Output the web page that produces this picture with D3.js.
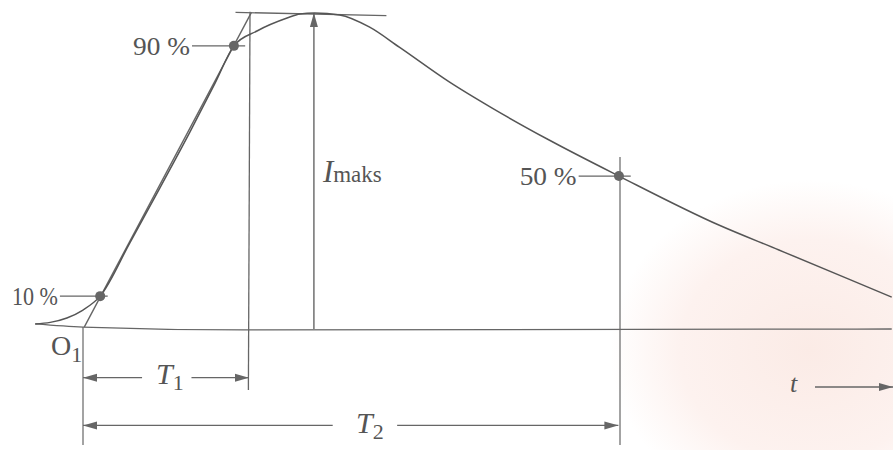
<!DOCTYPE html>
<html>
<head>
<meta charset="utf-8">
<script src="https://cdn.jsdelivr.net/npm/d3@7"></script>
<style>
  body { margin: 0; background: #fff; }
  text { font-family: "Liberation Serif", "DejaVu Serif", serif; fill: #555; }
</style>
</head>
<body>
<div id="grafico"></div>
<script>
// Impulsna struja: valni oblik T1/T2 (vrijednosti očitane sa slike, t u relativnim jedinicama, T2 = 100)
const valT = [-8.9, -6.1, -3.0, 0, 3.2, 8.7, 14.3, 19.9, 24.5, 28.1, 32.4, 38.0, 40.4, 43.1,
              47.8, 53.3, 58.9, 68.2, 76.2, 86.8, 99.8, 118.4, 129.6, 142.6, 150.6];
const valI = [1.6, 2.1, 3.5, 6.0, 10.4, 27.2, 44.6, 62.3, 77.5, 89.6, 94.3, 98.4, 99.7, 100,
              99.4, 95.6, 89.2, 78.2, 69.9, 59.8, 48.4, 32.9, 25.0, 15.8, 10.1];

// osnovna linija (os t)
const osT = [-8.9, 0, 30, 150.6];
const osI = [1.6, 0.6, -0.3, 0];

// točke 10 %, 90 %, 50 %
const tockeNaziv = ["10 %", "90 %", "50 %"];
const tockeT = [3.2, 28.1, 99.8];
const tockeI = [10.4, 89.6, 48.4];

const T1 = 31.1;
const T2 = 100;
const tMaks = 43.0;

const width = 893;
const height = 450;

const x = d3.scaleLinear().domain([0, 100]).range([83, 620]);
const y = d3.scaleLinear().domain([0, 100]).range([329, 13]);

const boja = "#666";

const svg = d3.select("#grafico")
    .append("svg")
    .attr("width", width)
    .attr("height", height);

// blijedi ružičasti ton papira (skenirana stranica)
const grad = svg.append("defs").append("radialGradient")
    .attr("id", "papir")
    .attr("cx", "0.5").attr("cy", "0.5").attr("r", "0.5");
grad.append("stop").attr("offset", "0%").attr("stop-color", "#fbebe6");
grad.append("stop").attr("offset", "65%").attr("stop-color", "#fdf2ef");
grad.append("stop").attr("offset", "100%").attr("stop-color", "#ffffff");
svg.append("ellipse")
    .attr("cx", 810).attr("cy", 350)
    .attr("rx", 200).attr("ry", 170)
    .attr("fill", "url(#papir)");

// strelice
const defs = svg.append("defs");
defs.append("marker")
    .attr("id", "strelica")
    .attr("markerUnits", "userSpaceOnUse")
    .attr("viewBox", "0 -5 14 10")
    .attr("refX", 14).attr("refY", 0)
    .attr("markerWidth", 14).attr("markerHeight", 10)
    .attr("orient", "auto")
    .append("path")
    .attr("d", "M0,-4L14,0L0,4Z")
    .attr("fill", boja);

const linija = (t0, i0, t1, i1, strelica, sirina) => {
    const l = svg.append("line")
        .attr("x1", x(t0)).attr("y1", y(i0))
        .attr("x2", x(t1)).attr("y2", y(i1))
        .attr("stroke", boja)
        .attr("stroke-width", sirina || 1.3);
    if (strelica) l.attr("marker-end", "url(#strelica)");
    return l;
};

// os t
svg.append("path")
    .datum(osT.map((t, k) => [t, osI[k]]))
    .attr("d", d3.line().x(d => x(d[0])).y(d => y(d[1])).curve(d3.curveMonotoneX))
    .attr("fill", "none")
    .attr("stroke", boja)
    .attr("stroke-width", 1.3);

// pravac kroz 10 % i 90 % (prividni početak O1)
const nagib = (tockeI[1] - tockeI[0]) / (tockeT[1] - tockeT[0]);
const t0 = tockeT[0] - tockeI[0] / nagib;
linija(t0 + 0.3, 0.6, t0 + 100 / nagib, 100.2, false, 1.4);

// vodoravna tangenta na vrhu
linija(28.4, 100.2, 56.5, 99.2, false, 1.3);

// okomice O1, T1, T2
linija(0, 0.6, 0, -36.7, false, 1.2);
linija(T1, 100.4, T1 - 0.3, -19.3, false, 1.3);
linija(T2, 54.4, T2, -36.7, false, 1.2);

// I maks
linija(tMaks, 0, tMaks, 100, true, 1.4);

// valni oblik
svg.append("path")
    .datum(valT.map((t, k) => [t, valI[k]]))
    .attr("d", d3.line().x(d => x(d[0])).y(d => y(d[1])).curve(d3.curveMonotoneX))
    .attr("fill", "none")
    .attr("stroke", "#555")
    .attr("stroke-width", 1.5);

// točke i oznake postotaka
const vodiceOd = [-4.3, 20.3, 92.3];
const vodiceDo = [4.6, 30.2, 102];
tockeNaziv.forEach((n, k) => {
    linija(vodiceOd[k], tockeI[k], vodiceDo[k], tockeI[k], false, 1.2);
    svg.append("circle")
        .attr("cx", x(tockeT[k]))
        .attr("cy", y(tockeI[k]))
        .attr("r", 5)
        .attr("fill", "#666");
    svg.append("text")
        .attr("x", x(vodiceOd[k]) - 2)
        .attr("y", y(tockeI[k]) + 9)
        .attr("text-anchor", "end")
        .style("font-size", k === 0 ? "25px" : "26px")
        .attr("textLength", k === 0 ? 46 : 57)
        .attr("lengthAdjust", "spacingAndGlyphs")
        .text(n);
});

// I_maks
const im = svg.append("text")
    .attr("x", x(tMaks) + 9)
    .attr("y", 182);
im.append("tspan").style("font-style", "italic").style("font-size", "31px").text("I");
im.append("tspan").style("font-size", "23px").text("maks");

// O1
const o1 = svg.append("text").attr("x", 51).attr("y", 355).style("font-size", "28px");
o1.append("tspan").text("O");
o1.append("tspan").attr("dy", 7).style("font-size", "22px").text("1");

// kote T1 i T2
const yT1 = -15.4;
const yT2 = -30.5;
linija(11, yT1, 0, yT1, true, 1.2);
linija(20.2, yT1, T1 - 0.2, yT1, true, 1.2);
linija(46.5, yT2, 0, yT2, true, 1.2);
linija(58.5, yT2, T2 - 0.3, yT2, true, 1.2);

const oznakaT = (tx, ty, indeks) => {
    const g = svg.append("text").attr("x", tx).attr("y", ty).style("font-size", "30px");
    g.append("tspan").style("font-style", "italic").text("T");
    g.append("tspan").attr("dy", 6).style("font-size", "22px").text(indeks);
};
oznakaT(156, 384, "1");
oznakaT(356, 433, "2");

// os t
svg.append("text")
    .attr("x", 790).attr("y", 392)
    .style("font-size", "26px")
    .style("font-style", "italic")
    .text("t");
svg.append("line")
    .attr("x1", 815).attr("y1", 387)
    .attr("x2", 893).attr("y2", 387)
    .attr("stroke", boja)
    .attr("stroke-width", 1.3)
    .attr("marker-end", "url(#strelica)");
</script>
</body>
</html>
